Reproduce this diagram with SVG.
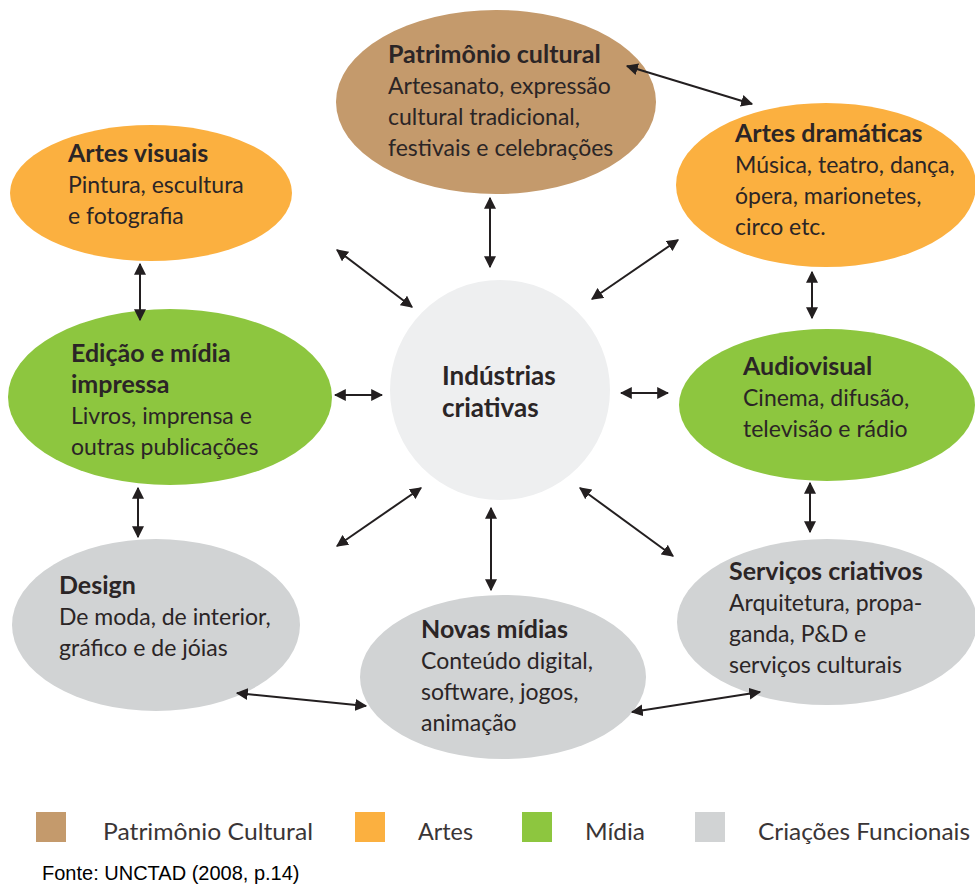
<svg xmlns="http://www.w3.org/2000/svg" width="975" height="887" viewBox="0 0 975 887">
  <style>
    .t { font-family: Lato, "Open Sans", sans-serif; font-size: 23px; fill: #2b2526; }
    .b { font-weight: bold; font-size: 25px; }
    .c { font-size: 26px; }
    .lg { font-family: Lato, "Open Sans", sans-serif; font-size: 23px; fill: #3a3536; }
    .src { font-family: "Liberation Sans", Arial, sans-serif; font-size: 20px; fill: #000; }
    .arr { stroke: #231f20; stroke-width: 2; fill: none; marker-start: url(#ah); marker-end: url(#ah); }
    .pat { fill: #c49a6c; }
    .art { fill: #fbb040; }
    .mid { fill: #8dc63f; }
    .fun { fill: #d1d3d4; }
  </style>
  <defs>
    <marker id="ah" viewBox="0 0 10 10" refX="9" refY="5" markerWidth="6" markerHeight="6" orient="auto-start-reverse" markerUnits="strokeWidth">
      <path d="M0,0 L10,5 L0,10 z" fill="#231f20"/>
    </marker>
  </defs>
  <rect width="975" height="887" fill="#fff"/>

  <g id="patrimonio">
    <ellipse class="pat" cx="496" cy="102" rx="160" ry="92"/>
    <text class="t b" x="388" y="63">Patrimônio cultural</text>
    <text class="t" x="388" y="94">Artesanato, expressão</text>
    <text class="t" x="388" y="125">cultural tradicional,</text>
    <text class="t" x="388" y="156">festivais e celebrações</text>
  </g>

  <g id="artes-visuais">
    <ellipse class="art" cx="151" cy="193" rx="141" ry="68"/>
    <text class="t b" x="68" y="162">Artes visuais</text>
    <text class="t" x="68" y="193">Pintura, escultura</text>
    <text class="t" x="68" y="224">e fotografia</text>
  </g>

  <g id="artes-dramaticas">
    <ellipse class="art" cx="826" cy="185" rx="150" ry="82"/>
    <text class="t b" x="735" y="142">Artes dramáticas</text>
    <text class="t" x="735" y="173">Música, teatro, dança,</text>
    <text class="t" x="735" y="204">ópera, marionetes,</text>
    <text class="t" x="735" y="235">circo etc.</text>
  </g>

  <g id="edicao">
    <ellipse class="mid" cx="170" cy="397" rx="162" ry="88"/>
    <text class="t b" x="71" y="362">Edição e mídia</text>
    <text class="t b" x="71" y="393">impressa</text>
    <text class="t" x="71" y="424">Livros, imprensa e</text>
    <text class="t" x="71" y="455">outras publicações</text>
  </g>

  <g id="industrias">
    <circle cx="500" cy="390" r="110" fill="#eeeff0"/>
    <text class="t b c" x="442" y="385">Indústrias</text>
    <text class="t b c" x="442" y="417">criativas</text>
  </g>

  <g id="audiovisual">
    <ellipse class="mid" cx="827" cy="405" rx="148" ry="76"/>
    <text class="t b" x="743" y="375">Audiovisual</text>
    <text class="t" x="743" y="406">Cinema, difusão,</text>
    <text class="t" x="743" y="437">televisão e rádio</text>
  </g>

  <g id="design">
    <ellipse class="fun" cx="156" cy="625" rx="144" ry="86"/>
    <text class="t b" x="59" y="594">Design</text>
    <text class="t" x="59" y="625">De moda, de interior,</text>
    <text class="t" x="59" y="656">gráfico e de jóias</text>
  </g>

  <g id="novas-midias">
    <ellipse class="fun" cx="503" cy="677" rx="143" ry="82"/>
    <text class="t b" x="421" y="638">Novas mídias</text>
    <text class="t" x="421" y="669">Conteúdo digital,</text>
    <text class="t" x="421" y="700">software, jogos,</text>
    <text class="t" x="421" y="731">animação</text>
  </g>

  <g id="servicos">
    <ellipse class="fun" cx="827" cy="622" rx="150" ry="83"/>
    <text class="t b" x="729" y="580">Serviços criativos</text>
    <text class="t" x="729" y="611">Arquitetura, propa-</text>
    <text class="t" x="729" y="642">ganda, P&amp;D e</text>
    <text class="t" x="729" y="673">serviços culturais</text>
  </g>

  <!-- two-headed connectors, drawn above the nodes -->
  <g id="connectors">
    <line class="arr" x1="627" y1="66" x2="752" y2="104"/>
    <line class="arr" x1="490" y1="198" x2="490" y2="267"/>
    <line class="arr" x1="337" y1="250" x2="412" y2="307"/>
    <line class="arr" x1="678" y1="240" x2="592" y2="299"/>
    <line class="arr" x1="140" y1="264" x2="140" y2="320"/>
    <line class="arr" x1="335" y1="395" x2="382" y2="395"/>
    <line class="arr" x1="621" y1="393" x2="668" y2="393"/>
    <line class="arr" x1="812" y1="272" x2="812" y2="318"/>
    <line class="arr" x1="138" y1="488" x2="138" y2="537"/>
    <line class="arr" x1="421" y1="488" x2="337" y2="546"/>
    <line class="arr" x1="491" y1="508" x2="491" y2="590"/>
    <line class="arr" x1="580" y1="488" x2="673" y2="556"/>
    <line class="arr" x1="810" y1="483" x2="810" y2="532"/>
    <line class="arr" x1="237" y1="693" x2="366" y2="706"/>
    <line class="arr" x1="632" y1="712" x2="760" y2="692"/>
  </g>

  <g id="legend">
    <rect class="pat" x="36" y="812" width="30" height="30"/>
    <text class="lg" x="103" y="840" textLength="210" lengthAdjust="spacingAndGlyphs">Patrimônio Cultural</text>
    <rect class="art" x="355" y="812" width="30" height="30"/>
    <text class="lg" x="418" y="840" textLength="55" lengthAdjust="spacingAndGlyphs">Artes</text>
    <rect class="mid" x="522" y="812" width="30" height="30"/>
    <text class="lg" x="585" y="840" textLength="60" lengthAdjust="spacingAndGlyphs">Mídia</text>
    <rect class="fun" x="695" y="812" width="30" height="30"/>
    <text class="lg" x="758" y="840" textLength="212" lengthAdjust="spacingAndGlyphs">Criações Funcionais</text>
    <text class="src" x="42" y="880">Fonte: UNCTAD (2008, p.14)</text>
  </g>
</svg>
